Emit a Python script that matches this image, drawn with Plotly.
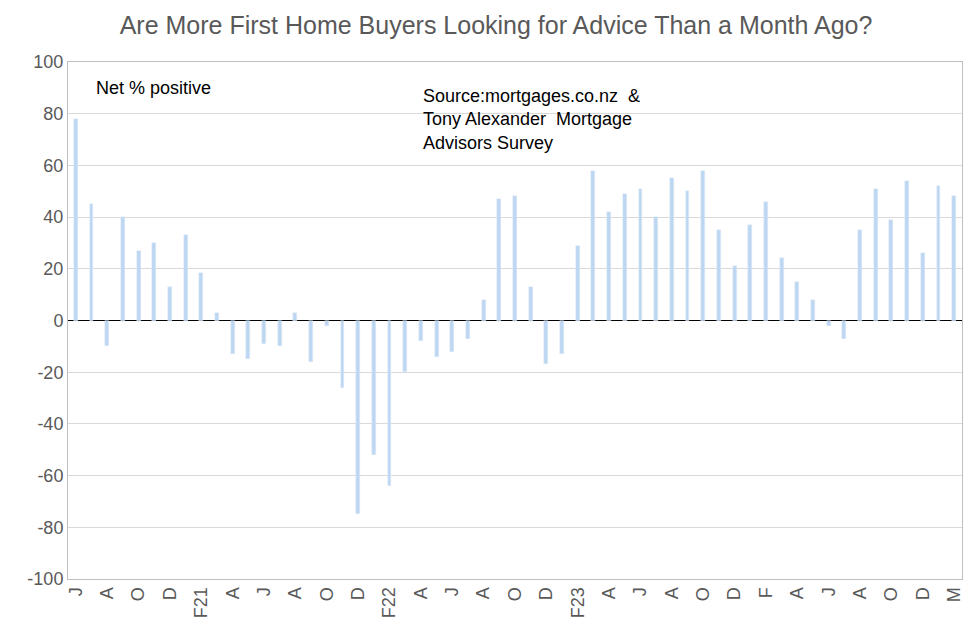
import plotly.graph_objects as go

values = [78,45,-10,40,27,30,13,33,18.5,3,-13,-15,-9,-10,3,-16,-2,-26,-75,-52,-64,-20,-8,-14,-12,-7,8,47,48,13,-17,-13,29,58,42,49,51,40,55,50,58,35,21,37,46,24,15,8,-2,-7,35,51,39,54,26,52,48]
tick_labels = ["J","A","O","D","F21","A","J","A","O","D","F22","A","J","A","O","D","F23","A","J","A","O","D","F","A","J","A","O","D","M"]
y_ticks = list(range(-100, 101, 20))
x = list(range(len(values)))

fig = go.Figure(go.Bar(x=x, y=values, marker_color="#bdd7f2", width=0.25))
fig.update_layout(
    width=976, height=637, plot_bgcolor="white", paper_bgcolor="white",
    margin=dict(l=60, r=22, t=54, b=66, autoexpand=False),
    font=dict(family="Liberation Sans, Arial", color="#595959"),
    title=dict(text="Are More First Home Buyers Looking for Advice Than a Month Ago?",
               x=0.5, xanchor="center", y=1-17/637, yanchor="middle", font=dict(size=25, color="#595959")),
    showlegend=False, bargap=0,
)
fig.update_xaxes(tickvals=x[::2], ticktext=tick_labels, tickangle=-90, range=[-0.5, len(values)-0.5],
                 showline=True, linecolor="#bfbfbf", ticks="", tickfont=dict(size=18), showgrid=False,
                 mirror=True, automargin=False)
fig.update_yaxes(range=[-100, 100], tickvals=y_ticks, ticktext=[str(v) for v in y_ticks],
                 gridcolor="#d9d9d9", zeroline=True, zerolinecolor="black",
                 zerolinewidth=1, showline=True, linecolor="#bfbfbf", mirror=True, tickfont=dict(size=18),
                 automargin=False)
fig.add_annotation(text="Net % positive", xref="paper", yref="paper", x=0.029, y=0.972, xanchor="left", yanchor="top",
                   showarrow=False, font=dict(size=18, color="black"))
fig.add_annotation(text="Source:mortgages.co.nz  &<br>Tony Alexander  Mortgage<br>Advisors Survey", xref="paper", yref="paper",
                   x=0.395, y=0.957, xanchor="left", yanchor="top", align="left",
                   showarrow=False, font=dict(size=18, color="black"))
fig.write_html("out.html")
